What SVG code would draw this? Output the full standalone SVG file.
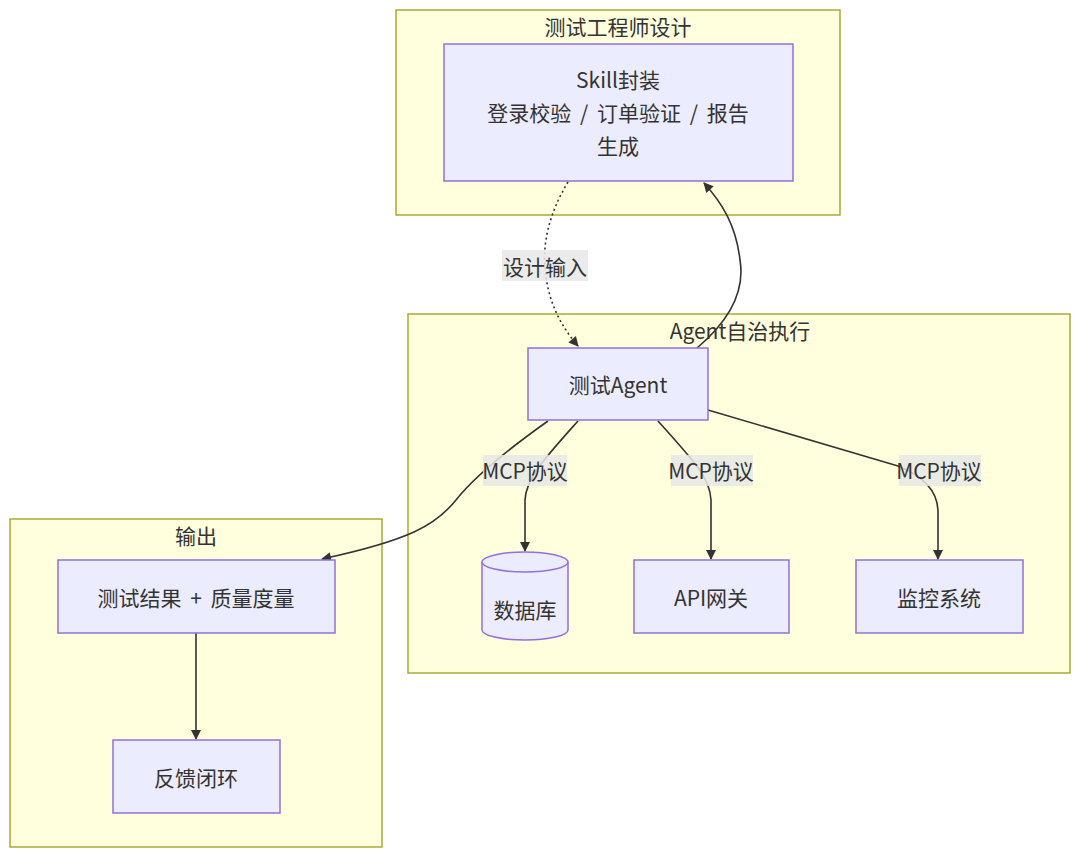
<svg xmlns="http://www.w3.org/2000/svg" width="1080" height="857" viewBox="0 0 1080 857">
<style>
text{font-family:"Noto Sans CJK SC","Noto Sans",sans-serif;fill:#333;font-size:21px;word-spacing:4px;text-anchor:middle;dominant-baseline:central}
.cl{fill:#ffffde;stroke:#aaaa33;stroke-width:1.5}
.nd{fill:#ececff;stroke:#9370db;stroke-width:1.5}
.e{fill:none;stroke:#333;stroke-width:1.6}
.dot{stroke-dasharray:2 3}
.lb{fill:#e8e8e8;opacity:0.85}
</style>
<defs>
<marker id="ah" viewBox="0 0 10 10" refX="9" refY="5" markerWidth="10" markerHeight="10" orient="auto" markerUnits="userSpaceOnUse" overflow="visible">
<path d="M0,0 L10,5 L0,10 z" fill="#333"/>
</marker>
</defs>
<rect width="1080" height="857" fill="#fff"/>
<g id="cluster-design">
<rect class="cl" x="396" y="10" width="444" height="205"/>
<text x="618" y="26">测试工程师设计</text>
</g>
<g id="cluster-agent">
<rect class="cl" x="408" y="314" width="662" height="359"/>
<text x="740" y="330">Agent自治执行</text>
</g>
<g id="cluster-output">
<rect class="cl" x="10" y="519" width="372" height="328"/>
<text x="196" y="535">输出</text>
</g>
<g id="connectors">
<path class="e dot" d="M568,182 C548,215 543,245 545,266 C547,300 560,325 578,346" marker-end="url(#ah)"/>
<path class="e" d="M697,348 C730,320 745,290 740,260 C736,225 722,203 704,183" marker-end="url(#ah)"/>
<path class="e" d="M548,421 C500,455 472,480 456,500 C436,525 410,540 322,559" marker-end="url(#ah)"/>
<path class="e" d="M578,421 C545,458 526,478 525,500 L525,551" marker-end="url(#ah)"/>
<path class="e" d="M658,421 C695,462 710,478 711,500 L711,559" marker-end="url(#ah)"/>
<path class="e" d="M708,410 L898,466 C928,478 938,495 938,512 L938,559" marker-end="url(#ah)"/>
<path class="e" d="M196,633 L196,739" marker-end="url(#ah)"/>
<rect class="lb" x="502" y="250" width="86" height="31"/>
<text x="545" y="266">设计输入</text>
<rect class="lb" x="483" y="455" width="84" height="31"/>
<text x="525" y="470">MCP协议</text>
<rect class="lb" x="671" y="455" width="82" height="31"/>
<text x="711" y="470">MCP协议</text>
<rect class="lb" x="899" y="455" width="82" height="31"/>
<text x="939" y="470">MCP协议</text>
</g>
<g id="node-skill">
<rect class="nd" x="444" y="44" width="349" height="137"/>
<text x="618" y="79">Skill封装</text>
<text x="618" y="112">登录校验 / 订单验证 / 报告</text>
<text x="618" y="145">生成</text>
</g>
<g id="node-agent">
<rect class="nd" x="528" y="348" width="180" height="72"/>
<text x="618" y="384">测试Agent</text>
</g>
<g id="node-db">
<path class="nd" d="M482,562 A43,10 0 0 1 568,562 L568,630 A43,10 0 0 1 482,630 Z"/>
<path d="M482,562 A43,10 0 0 0 568,562" fill="none" stroke="#9370db" stroke-width="1.5"/>
<text x="525" y="609">数据库</text>
</g>
<g id="node-api">
<rect class="nd" x="634" y="560" width="155" height="73"/>
<text x="711" y="597">API网关</text>
</g>
<g id="node-monitor">
<rect class="nd" x="856" y="560" width="167" height="73"/>
<text x="939" y="597">监控系统</text>
</g>
<g id="node-result">
<rect class="nd" x="58" y="560" width="277" height="73"/>
<text x="196" y="597">测试结果 + 质量度量</text>
</g>
<g id="node-feedback">
<rect class="nd" x="113" y="740" width="167" height="73"/>
<text x="196" y="777">反馈闭环</text>
</g>
</svg>
